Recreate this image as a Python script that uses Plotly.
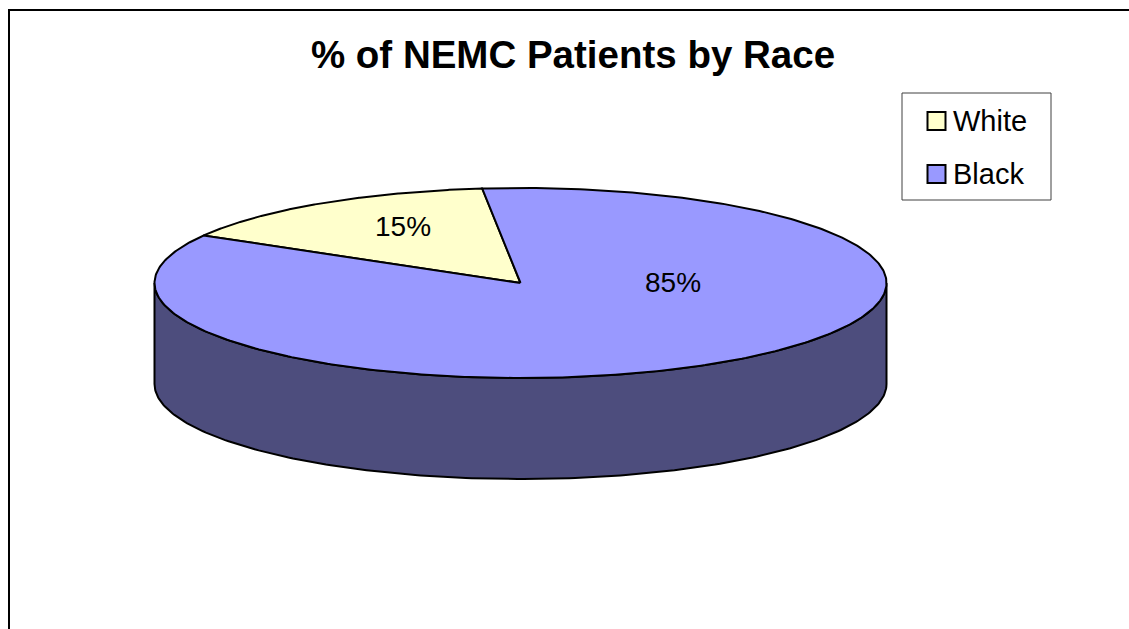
import numpy as np
import plotly.graph_objects as go

# ---- data ----
categories = ["White", "Black"]
values = [15, 85]
top_colors = ["#FFFFCC", "#9999FF"]
side_colors = ["#80806A", "#4D4D7D"]
title_text = "% of NEMC Patients by Race"

# ---- geometry / style (pixels) ----
W, H = 1129, 629
CX, CY = 520.5, 283.0      # center of top ellipse
RX, RY = 366.0, 95.0       # ellipse radii
DEPTH = 101.0              # thickness of the pie
START = 300.0              # clockwise angle (deg from 12 o'clock) where first slice starts
FONT = "Arial, Liberation Sans, sans-serif"

total = float(sum(values))
spans = [v / total * 360.0 for v in values]
starts = list(np.cumsum([START] + spans[:-1]))


def pt(theta_deg, dz=0.0):
    t = np.radians(theta_deg)
    return CX + RX * np.sin(t), CY - RY * np.cos(t) + dz


fig = go.Figure()

# side walls (front half: angles 90..270)
for s, sp, col in zip(starts, spans, side_colors):
    a0, a1 = s, s + sp
    for off in (-360.0, 0.0, 360.0):
        lo = max(a0 + off, 90.0)
        hi = min(a1 + off, 270.0)
        if hi > lo:
            th = np.linspace(lo, hi, 200)
            xt, yt = pt(th)
            xb, yb = pt(th[::-1], DEPTH)
            xs = np.concatenate([xt, xb, xt[:1]])
            ys = np.concatenate([yt, yb, yt[:1]])
            fig.add_trace(go.Scatter(x=xs, y=ys, mode="lines", fill="toself",
                                     fillcolor=col, line=dict(color="black", width=2),
                                     hoverinfo="skip", showlegend=False))

# top faces
for s, sp, col in zip(starts, spans, top_colors):
    th = np.linspace(s, s + sp, 400)
    xa, ya = pt(th)
    xs = np.concatenate([[CX], xa, [CX]])
    ys = np.concatenate([[CY], ya, [CY]])
    fig.add_trace(go.Scatter(x=xs, y=ys, mode="lines", fill="toself",
                             fillcolor=col, line=dict(color="black", width=2),
                             hoverinfo="skip", showlegend=False))

# data labels
label_pos = [(403, 226), (673, 282)]
for v, (lx, ly) in zip(values, label_pos):
    fig.add_annotation(x=lx, y=ly, text=f"{v / total * 100:.0f}%", showarrow=False,
                       font=dict(family=FONT, size=28, color="black"),
                       xanchor="center", yanchor="middle")

# legend (manual)
LX0, LY0, LX1, LY1 = 902, 93, 1051, 200
fig.add_shape(type="rect", x0=LX0, y0=LY0, x1=LX1, y1=LY1,
              line=dict(color="#404040", width=1), fillcolor="white", layer="below")
for i, (cat, col) in enumerate(zip(categories, top_colors)):
    yy = LY0 + 28 + i * 53
    fig.add_trace(go.Scatter(x=[936.5], y=[yy], mode="markers",
                             marker=dict(symbol="square", size=18, color=col,
                                         line=dict(color="black", width=2)),
                             hoverinfo="skip", showlegend=False))
    fig.add_annotation(x=951, y=yy, text=cat, showarrow=False,
                       font=dict(family=FONT, size=29, color="black"),
                       xanchor="left", yanchor="middle")

# outer chart border
fig.add_shape(type="rect", x0=9, y0=10, x1=W + 50, y1=H + 50,
              line=dict(color="black", width=2), layer="above")

fig.update_layout(
    width=W, height=H,
    margin=dict(l=0, r=0, t=0, b=0),
    paper_bgcolor="white", plot_bgcolor="white",
    title=dict(text=f"<b>{title_text}</b>", x=573 / W, xanchor="center",
               y=1 - 55 / H, yanchor="middle",
               font=dict(family=FONT, size=38.5, color="black")),
    xaxis=dict(range=[0, W], visible=False, fixedrange=True),
    yaxis=dict(range=[H, 0], visible=False, fixedrange=True),
    showlegend=False,
)

fig.write_html("out.html", config=dict(displayModeBar=False))
